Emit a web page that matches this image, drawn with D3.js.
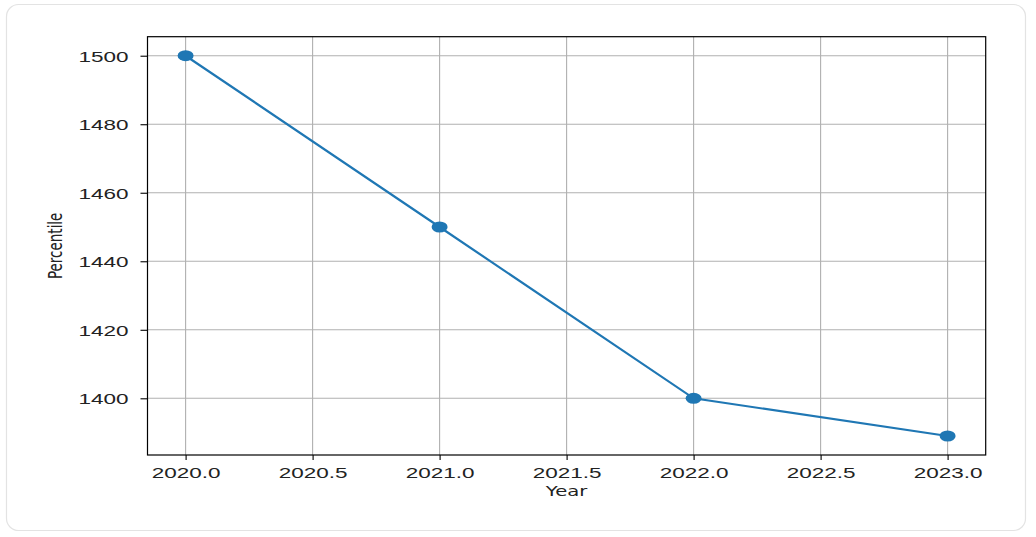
<!DOCTYPE html>
<html lang="en">
<head>
    <meta charset="UTF-8">
    <title>Percentile by Year</title>
    <script src="https://d3js.org/d3.v7.min.js"></script>
    <style>
        body { margin: 0; background: #fff; }
        svg { display: block; font-family: "DejaVu Sans", sans-serif; }
    </style>
</head>
<body>
    <svg width="1036" height="537"></svg>

    <script>
        // Chart data
        const years = [2020, 2021, 2022, 2023];
        const percentile = [1500, 1450, 1400, 1389];
        const xTicks = [2020.0, 2020.5, 2021.0, 2021.5, 2022.0, 2022.5, 2023.0];
        const yTicks = [1400, 1420, 1440, 1460, 1480, 1500];

        const stretch = 1.5; // picture is wider than tall text would suggest

        const svg = d3.select("svg");

        // card outline
        svg.append("rect")
            .attr("x", 6.5).attr("y", 4.5)
            .attr("width", 1019).attr("height", 526)
            .attr("rx", 12)
            .attr("fill", "#fff")
            .attr("stroke", "#e3e3e3")
            .attr("stroke-width", 1.2);

        const mLeft = 147.5, mRight = 985.7, mTop = 36.7, mBottom = 455;

        // matplotlib-style 5% margins
        const xPad = (d3.max(years) - d3.min(years)) * 0.05;
        const yPad = (d3.max(percentile) - d3.min(percentile)) * 0.05;

        const x = d3.scaleLinear()
            .domain([d3.min(years) - xPad, d3.max(years) + xPad])
            .range([mLeft, mRight]);

        const y = d3.scaleLinear()
            .domain([d3.min(percentile) - yPad, d3.max(percentile) + yPad])
            .range([mBottom, mTop]);

        // grid
        svg.append("g").selectAll("line")
            .data(xTicks).enter().append("line")
            .attr("x1", d => x(d)).attr("x2", d => x(d))
            .attr("y1", mTop).attr("y2", mBottom)
            .attr("stroke", "#b0b0b0").attr("stroke-width", 1.1);

        svg.append("g").selectAll("line")
            .data(yTicks).enter().append("line")
            .attr("x1", mLeft).attr("x2", mRight)
            .attr("y1", d => y(d)).attr("y2", d => y(d))
            .attr("stroke", "#b0b0b0").attr("stroke-width", 1.1);

        // x axis
        const xAxis = svg.append("g")
            .attr("transform", `translate(0,${mBottom})`)
            .call(d3.axisBottom(x).tickValues(xTicks).tickFormat(d3.format(".1f")).tickSizeInner(5).tickSizeOuter(0).tickPadding(5));
        xAxis.select(".domain").remove();
        xAxis.selectAll(".tick line").attr("stroke", "#000").attr("stroke-width", 1.1);
        xAxis.selectAll(".tick text")
            .attr("x", 0).attr("y", 0).attr("dy", null)
            .attr("transform", `translate(0,22.5) scale(${stretch},1)`)
            .attr("font-size", 15).attr("fill", "#222");

        // y axis
        const yAxis = svg.append("g")
            .attr("transform", `translate(${mLeft},0)`)
            .call(d3.axisLeft(y).tickValues(yTicks).tickFormat(d3.format("d")).tickSizeInner(7).tickSizeOuter(0).tickPadding(5));
        yAxis.select(".domain").remove();
        yAxis.selectAll(".tick line").attr("stroke", "#000").attr("stroke-width", 1.1);
        yAxis.selectAll(".tick text")
            .attr("x", 0).attr("dy", "0.36em")
            .attr("transform", `translate(-19,0) scale(${stretch},1)`)
            .attr("font-size", 15).attr("fill", "#222");

        // frame
        svg.append("rect")
            .attr("x", mLeft).attr("y", mTop)
            .attr("width", mRight - mLeft).attr("height", mBottom - mTop)
            .attr("fill", "none").attr("stroke", "#000").attr("stroke-width", 1.2);

        // axis titles
        svg.append("text")
            .attr("transform", `translate(${(mLeft + mRight) / 2},496) scale(1.4,1)`)
            .attr("text-anchor", "middle")
            .attr("font-size", 14).attr("fill", "#222")
            .text("Year");

        svg.append("text")
            .attr("transform", `translate(62,${(mTop + mBottom) / 2}) scale(${stretch},1) rotate(-90)`)
            .attr("text-anchor", "middle")
            .attr("font-size", 13.5).attr("fill", "#222")
            .text("Percentile");

        // line + markers
        const pts = years.map((d, i) => [d, percentile[i]]);
        const line = d3.line().x(d => x(d[0])).y(d => y(d[1]));

        svg.append("path")
            .datum(pts)
            .attr("d", line)
            .attr("fill", "none")
            .attr("stroke", "#1f77b4")
            .attr("stroke-width", 2.2);

        svg.append("g").selectAll("ellipse")
            .data(pts).enter().append("ellipse")
            .attr("cx", d => x(d[0])).attr("cy", d => y(d[1]))
            .attr("rx", 8).attr("ry", 5.5)
            .attr("fill", "#1f77b4");
    </script>
</body>
</html>
